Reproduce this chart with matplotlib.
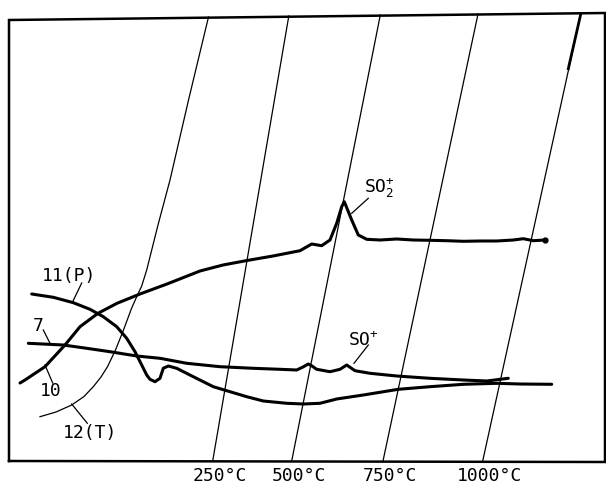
import numpy as np
import matplotlib
matplotlib.use('Agg')
import matplotlib.pyplot as plt

# -- chart-recorder traces (x right, y down)

# curve 10 : SO2+ trace
c10_x = [20, 25, 45, 65, 80, 98, 117, 140, 167, 200, 223, 247, 273, 300,
         311.7, 321.7, 330, 336.7, 341.7, 344.3, 351.7, 358.3, 366.7, 380,
         396.7, 413.3, 430, 446.7, 463.3, 480, 496.7, 513.3, 523.3, 533.3, 545]
c10_y = [383, 380, 366.7, 345, 326.7, 313.3, 303.3, 294, 284, 271, 265, 260.5,
         256, 250.7, 244, 245.7, 240, 223.3, 206.7, 201.7, 220, 235, 239.3, 240,
         239, 240, 240.3, 240.7, 241.3, 241, 241, 240, 238.7, 240.7, 240]

# curve 7 : SO+ trace
c7_x = [28.3, 63.3, 86.7, 110, 136.7, 160, 186.7, 220, 253.3, 280, 296.7,
        303, 308.3, 312, 316.7, 330, 340, 346.7, 355, 370, 396.7, 430, 463.3,
        486.7, 508.3]
c7_y = [343.3, 345, 348.3, 351.7, 356, 358.3, 363.3, 366.7, 368.3, 369.3, 370,
        367, 364, 366, 369.3, 371.7, 369.3, 365, 370.7, 373.3, 376, 378.3, 380,
        381, 378.3]

# curve 11 : pressure
c11_x = [31.7, 53.3, 73.3, 90, 103.3, 116.7, 126.7, 135, 141.7, 146.7, 150,
         155, 160, 163.3, 168.3, 176.7, 193.3, 213.3, 230, 246.7, 263.3, 286.7,
         303.3, 320, 336.7, 363.3, 398.3, 430, 463.3, 496.7, 520, 551.7]
c11_y = [294, 297.3, 302.7, 309.3, 316.7, 326.7, 338.3, 351.7, 365, 375, 379.3,
         381.7, 378.3, 368.3, 366, 368.3, 376.7, 386.7, 391.7, 396.7, 401, 403.3,
         404, 403.3, 399, 395, 389.3, 386.7, 384.3, 383.3, 384, 384.3]

# curve 12 : temperature
c12_x = [40, 56, 71.7, 84, 93.3, 101, 107.5, 115.5, 123.5, 131.5, 137, 141.7,
         146.7, 158, 170, 189, 208.5]
c12_y = [416.7, 412, 405, 396.5, 386.7, 377, 366.7, 350, 330, 308.5, 296,
         286, 270, 225, 180, 98, 17]

# isotherm grid lines: foot and head positions
iso_labels = ['250°C', '500°C', '750°C', '1000°C']
iso_bot = [212.7, 291.7, 383, 482.7]
iso_top = [288.8, 380.3, 478, 581]
iso_ytop = [16, 15, 14, 13]

# frame corners
frame_x = [9, 9, 605, 605, 9]
frame_y = [461, 20, 13, 462, 461]

mono = 'DejaVu Sans Mono'

fig = plt.figure(figsize=(6.06, 4.86), dpi=100)
ax = fig.add_axes([0, 0, 1, 1])
ax.set_xlim(0, 606)
ax.set_ylim(486, 0)
ax.axis('off')

ax.plot(frame_x, frame_y, color='black', lw=1.8, solid_joinstyle='miter')

for lab, xb, xt, yt in zip(iso_labels, iso_bot, iso_top, iso_ytop):
    ax.plot([xb, xt], [461, yt], color='black', lw=0.9)
    ax.text(xb + 7, 476, lab, ha='center', va='center', fontsize=13,
            family=mono)

# heavier pen stroke on the last grid line near the top
ax.plot([iso_top[-1], iso_top[-1] - 13], [iso_ytop[-1], 70], color='black',
        lw=2.0, solid_capstyle='butt')

ax.plot(c12_x, c12_y, color='black', lw=0.9)
for cx, cy in [(c10_x, c10_y), (c7_x, c7_y), (c11_x, c11_y)]:
    ax.plot(cx, cy, color='black', lw=2.2, solid_capstyle='round',
            solid_joinstyle='round')
ax.plot(c10_x[-1], c10_y[-1], 'o', color='black', ms=3.5)

# curve labels with leader lines
ax.text(69, 276, '11(P)', ha='center', va='center', fontsize=13, family=mono)
ax.plot([81.7, 72.7], [283, 301.7], color='black', lw=0.9)
ax.text(38, 326, '7', ha='center', va='center', fontsize=13, family=mono)
ax.plot([43.3, 50], [330, 343.3], color='black', lw=0.9)
ax.text(51, 391, '10', ha='center', va='center', fontsize=13, family=mono)
ax.plot([45, 52.7], [365, 383], color='black', lw=0.9)
ax.text(90, 433, '12(T)', ha='center', va='center', fontsize=13, family=mono)
ax.plot([71.7, 87.3], [404, 423.3], color='black', lw=0.9)

ax.text(364, 187, r'$\mathtt{SO}_\mathtt{2}^\mathtt{+}$', ha='left', va='center',
        fontsize=13)
ax.plot([368.3, 351.7], [198.3, 213.3], color='black', lw=0.9)
ax.text(348, 340, r'$\mathtt{SO}^\mathtt{+}$', ha='left', va='center',
        fontsize=13)
ax.plot([368.3, 354], [345, 363.3], color='black', lw=0.9)

plt.savefig('out.png', dpi=100)
